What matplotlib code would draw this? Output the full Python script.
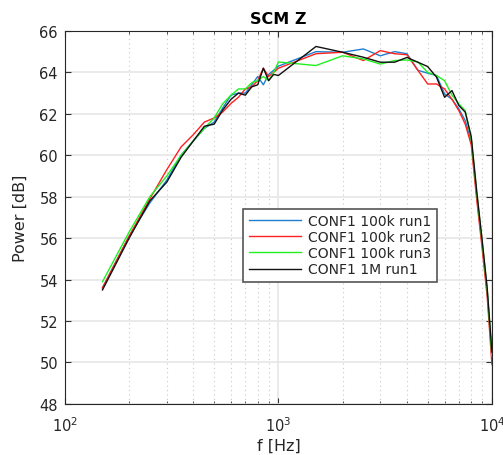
import matplotlib

matplotlib.use("Agg")
import matplotlib.pyplot as plt
import numpy as np

# frequency points: 50 Hz steps up to 1 kHz, then 500 Hz steps
freq = [150, 200, 250, 300, 350, 400, 450, 500, 550, 600, 650, 700, 750, 800, 850, 900, 950, 1000,
        1500, 2000, 2500, 3000, 3500, 4000, 4500, 5000, 5500, 6000, 6500, 7000, 7500, 8000,
        8500, 9000, 9500, 10000]

run1 = [53.6, 56.1, 57.7, 58.8, 60.0, 60.7, 61.3, 61.6, 62.3, 62.9, 63.0, 63.0, 63.4, 63.8, 63.4, 63.9, 64.1, 64.3,
        65.0, 64.97, 65.13, 64.8, 65.0, 64.9, 64.1, 63.96, 63.85, 62.96, 62.7, 62.24, 61.67, 60.7,
        58.0, 55.7, 53.4, 50.3]
run2 = [53.6, 56.1, 57.9, 59.3, 60.4, 61.0, 61.6, 61.8, 62.1, 62.5, 62.8, 63.2, 63.3, 63.6, 64.2, 63.8, 64.0, 64.2,
        64.9, 64.97, 64.57, 65.05, 64.9, 64.85, 64.1, 63.44, 63.44, 63.2, 62.7, 62.15, 61.5, 60.5,
        57.8, 55.5, 53.2, 49.9]
run3 = [53.9, 56.3, 58.0, 59.0, 60.0, 60.7, 61.3, 61.8, 62.5, 62.9, 63.2, 63.2, 63.5, 63.6, 63.8, 63.6, 64.0, 64.5,
        64.33, 64.8, 64.65, 64.4, 64.57, 64.6, 64.5, 64.0, 63.85, 63.6, 62.9, 62.48, 62.15, 60.8,
        58.1, 55.8, 53.5, 50.3]
run1m = [53.5, 56.0, 57.8, 58.7, 59.9, 60.7, 61.4, 61.5, 62.2, 62.7, 63.0, 62.9, 63.3, 63.4, 64.2, 63.6, 63.9, 63.85,
         65.25, 64.97, 64.73, 64.49, 64.49, 64.72, 64.49, 64.28, 63.77, 62.8, 63.12, 62.4, 62.08, 60.9,
         58.2, 55.9, 53.6, 50.5]

labels = ["CONF1 100k run1", "CONF1 100k run2", "CONF1 100k run3", "CONF1 1M run1"]
colors = ["#1f7fcf", "#ff2020", "#20f020", "#111111"]

fig = plt.figure(figsize=(5.03, 4.56), dpi=100, facecolor="white")
ax = fig.add_axes([0.129, 0.112, 0.849, 0.818])

for series, label, color in zip([run1, run2, run3, run1m], labels, colors):
    ax.semilogx(freq, series, color=color, linewidth=1.0, label=label)

ax.set_xlim(100, 10000)
ax.set_ylim(48, 66)
ax.set_yticks(np.arange(48, 67, 2))

ax.grid(which="major", axis="both", color="#e6e6e6", linewidth=1.2, linestyle="-")
ax.grid(which="minor", axis="x", color="#c8c8c8", linewidth=0.8, linestyle=(0, (1, 3)))
ax.set_axisbelow(True)

ax.tick_params(which="both", direction="in", top=True, right=True, color="#333333",
               labelsize=10.5, labelcolor="#262626")
ax.tick_params(which="major", length=4)
ax.tick_params(which="minor", length=2.5)
ax.tick_params(axis="x", which="major", pad=8)
ax.tick_params(axis="y", which="major", pad=5)
for spine in ax.spines.values():
    spine.set_color("#262626")
    spine.set_linewidth(0.8)

ax.set_xlabel("f [Hz]", fontsize=11.5, color="#262626", labelpad=3)
ax.set_ylabel("Power [dB]", fontsize=11.5, color="#262626", labelpad=8)
ax.set_title("SCM Z", fontsize=11.5, fontweight="bold", pad=6)

leg = ax.legend(loc="lower left", bbox_to_anchor=(0.417, 0.327), fontsize=10,
                handlelength=3.8, fancybox=False, framealpha=1, borderpad=0.4,
                labelspacing=0.15, handletextpad=0.5, borderaxespad=0)
leg.get_frame().set_edgecolor("#555555")
leg.get_frame().set_linewidth(1.2)
for text in leg.get_texts():
    text.set_color("#262626")

fig.savefig("out.png", dpi=100, facecolor="white")
